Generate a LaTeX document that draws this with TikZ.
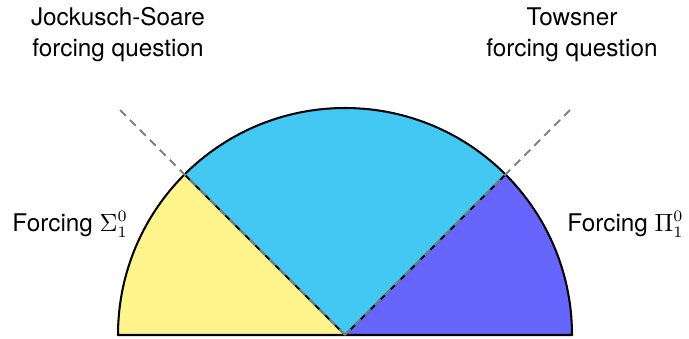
\documentclass[tikz,border=0pt]{standalone}
\usepackage{fontspec}
\setmainfont{TeX Gyre Heros}
\usepackage{amsmath,amssymb}
\usepackage{xcolor}
\usetikzlibrary{calc}

\definecolor{sigmafill}{RGB}{255,245,140}
\definecolor{jsfill}{RGB}{66,200,242}
\definecolor{pifill}{RGB}{102,102,255}

\begin{document}
\begin{tikzpicture}[x=0.44pt,y=0.44pt,line join=round,
	edge/.style={line width=0.9pt},
	guide/.style={gray,line width=0.9pt,dash pattern=on 3.6pt off 2.6pt},
	qtext/.style={inner sep=0pt,align=center,font=\fontsize{10.7}{13.6}\selectfont}]
		
		\useasboundingbox (0,0) rectangle (689,338);
		
		% Centre of the half disc and ends of the guide lines
		\coordinate (o) at (345,3);
		\coordinate (l) at ($(o)+(135:320)$);
		\coordinate (r) at ($(o)+(45:320)$);
		
		% Sectors
		\fill[sigmafill] (o) -- ++(180:227) arc[start angle=180,end angle=135,radius=227] -- cycle;
		\fill[jsfill] (o) -- ++(135:227) arc[start angle=135,end angle=45,radius=227] -- cycle;
		\fill[pifill] (o) -- ++(45:227) arc[start angle=45,end angle=0,radius=227] -- cycle;
		
		% Outline
		\draw[edge] (o) ++(0:227) arc[start angle=0,end angle=180,radius=227] -- cycle;
		\draw[edge] (o) -- ++(135:227);
		\draw[edge] (o) -- ++(45:227);
		
		% Guide lines (dashed)
		\draw[guide] (o) -- (l);
		\draw[guide] (o) -- (r);
		
		% Labels
		\node[qtext,anchor=north] (js) at (118,331) {Jockusch-Soare\\forcing question};
		\node[qtext,anchor=north] (tw) at (572,331) {Towsner\\forcing question};
		\node[qtext,anchor=base west] (sigma) at (12,107) {Forcing $\Sigma^0_1$};
		\node[qtext,anchor=base west] (pi) at (567,107) {Forcing $\Pi^0_1$};
		
	\end{tikzpicture}
\end{document}
